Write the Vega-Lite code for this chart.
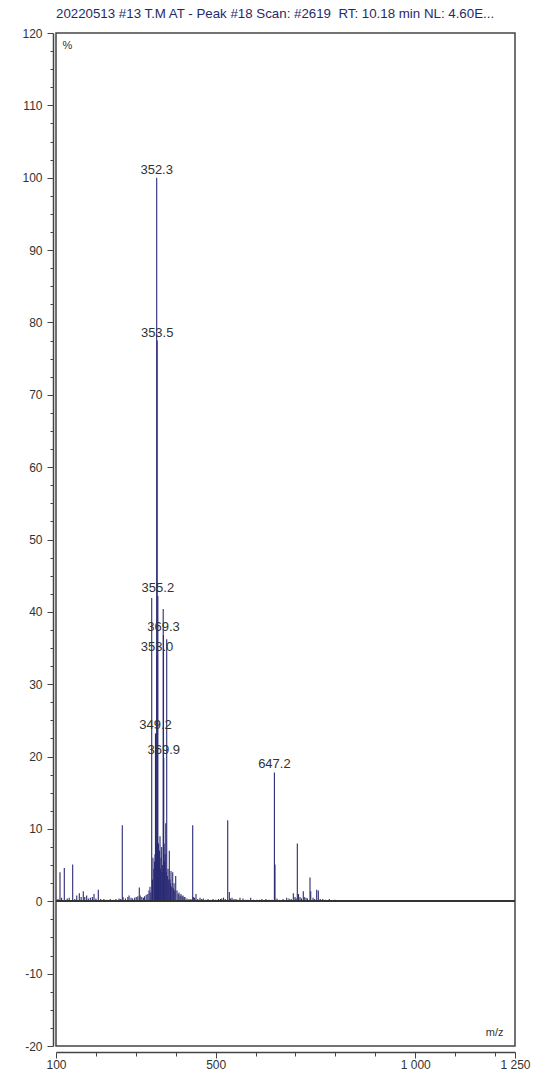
{
  "$schema": "https://vega.github.io/schema/vega-lite/v6.json",
  "width": 459,
  "height": 1013,
  "autosize": {"type": "none"},
  "padding": {"left": 56, "top": 33, "right": 18, "bottom": 25},
  "background": "white",
  "config": {
    "view": {"stroke": "#444444", "strokeWidth": 1.5},
    "font": "Liberation Sans"
  },
  "title": {
    "text": "20220513 #13 T.M AT - Peak #18 Scan: #2619 \u00a0RT: 10.18 min NL: 4.60E...",
    "anchor": "start",
    "frame": "group",
    "fontSize": 13.3,
    "fontWeight": "normal",
    "color": "#1d2b6b",
    "offset": 7,
    "font": "Liberation Sans"
  },
  "resolve": {"axis": {"x": "independent", "y": "independent"}},
  "data": {
    "values": [
      {"mz": 105.0, "intensity": 0.3},
      {"mz": 110.0, "intensity": 4.0},
      {"mz": 114.0, "intensity": 0.5},
      {"mz": 120.8, "intensity": 4.6},
      {"mz": 128.0, "intensity": 0.4},
      {"mz": 133.0, "intensity": 0.5},
      {"mz": 141.8, "intensity": 5.1},
      {"mz": 147.0, "intensity": 0.3},
      {"mz": 152.0, "intensity": 0.8},
      {"mz": 158.4, "intensity": 1.1},
      {"mz": 163.0, "intensity": 0.6},
      {"mz": 168.4, "intensity": 1.4},
      {"mz": 172.0, "intensity": 0.6},
      {"mz": 176.9, "intensity": 0.8},
      {"mz": 181.0, "intensity": 0.4},
      {"mz": 186.0, "intensity": 0.5},
      {"mz": 191.0, "intensity": 0.6},
      {"mz": 195.2, "intensity": 1.0},
      {"mz": 200.0, "intensity": 0.4},
      {"mz": 206.0, "intensity": 1.6},
      {"mz": 212.0, "intensity": 0.3},
      {"mz": 220.0, "intensity": 0.3},
      {"mz": 228.0, "intensity": 0.2},
      {"mz": 236.0, "intensity": 0.3},
      {"mz": 244.0, "intensity": 0.2},
      {"mz": 250.0, "intensity": 0.3},
      {"mz": 258.0, "intensity": 0.4},
      {"mz": 262.0, "intensity": 0.3},
      {"mz": 266.1, "intensity": 10.5},
      {"mz": 268.0, "intensity": 0.6},
      {"mz": 274.0, "intensity": 0.4},
      {"mz": 280.0, "intensity": 0.6},
      {"mz": 283.0, "intensity": 0.8},
      {"mz": 288.0, "intensity": 0.5},
      {"mz": 292.0, "intensity": 0.4},
      {"mz": 297.0, "intensity": 0.5},
      {"mz": 301.0, "intensity": 0.6},
      {"mz": 305.0, "intensity": 0.7},
      {"mz": 308.7, "intensity": 1.9},
      {"mz": 311.0, "intensity": 0.8},
      {"mz": 315.0, "intensity": 0.6},
      {"mz": 319.0, "intensity": 0.5},
      {"mz": 322.0, "intensity": 0.7},
      {"mz": 326.0, "intensity": 0.9},
      {"mz": 330.0, "intensity": 1.0},
      {"mz": 333.0, "intensity": 1.5},
      {"mz": 335.5, "intensity": 2.0},
      {"mz": 337.5, "intensity": 1.2},
      {"mz": 339.8, "intensity": 41.9},
      {"mz": 341.8, "intensity": 3.0},
      {"mz": 343.0, "intensity": 6.0},
      {"mz": 345.0, "intensity": 4.5},
      {"mz": 347.0, "intensity": 5.5},
      {"mz": 348.0, "intensity": 6.5},
      {"mz": 349.2, "intensity": 23.2, "label": "349.2"},
      {"mz": 350.5, "intensity": 7.0},
      {"mz": 351.5, "intensity": 8.0},
      {"mz": 352.3, "intensity": 100, "label": "352.3"},
      {"mz": 353.0, "intensity": 34.0, "label": "353.0"},
      {"mz": 353.5, "intensity": 77.5, "label": "353.5"},
      {"mz": 354.4, "intensity": 9.0},
      {"mz": 355.2, "intensity": 42.2, "label": "355.2"},
      {"mz": 355.9, "intensity": 5.0},
      {"mz": 356.8, "intensity": 8.0},
      {"mz": 358.0, "intensity": 6.0},
      {"mz": 359.4, "intensity": 7.0},
      {"mz": 360.6, "intensity": 9.0},
      {"mz": 362.0, "intensity": 4.5},
      {"mz": 363.0, "intensity": 6.0},
      {"mz": 364.8, "intensity": 7.5},
      {"mz": 366.0, "intensity": 4.0},
      {"mz": 367.3, "intensity": 5.0},
      {"mz": 368.6, "intensity": 40.4},
      {"mz": 369.3, "intensity": 36.8, "label": "369.3"},
      {"mz": 369.9, "intensity": 19.8, "label": "369.9"},
      {"mz": 370.9, "intensity": 8.0},
      {"mz": 372.0, "intensity": 5.5},
      {"mz": 373.5, "intensity": 6.5},
      {"mz": 375.0, "intensity": 10.8},
      {"mz": 376.3, "intensity": 4.0},
      {"mz": 377.4, "intensity": 36.2},
      {"mz": 379.0, "intensity": 3.5},
      {"mz": 380.7, "intensity": 4.5},
      {"mz": 382.3, "intensity": 3.0},
      {"mz": 383.9, "intensity": 7.0},
      {"mz": 385.6, "intensity": 3.0},
      {"mz": 387.0, "intensity": 2.5},
      {"mz": 388.1, "intensity": 4.2},
      {"mz": 390.0, "intensity": 2.0},
      {"mz": 392.4, "intensity": 4.0},
      {"mz": 394.0, "intensity": 1.8},
      {"mz": 395.7, "intensity": 2.5},
      {"mz": 397.5, "intensity": 1.5},
      {"mz": 399.9, "intensity": 3.5},
      {"mz": 403.2, "intensity": 1.5},
      {"mz": 406.0, "intensity": 1.0},
      {"mz": 408.2, "intensity": 1.2},
      {"mz": 411.0, "intensity": 0.8},
      {"mz": 413.2, "intensity": 1.0},
      {"mz": 416.0, "intensity": 0.7},
      {"mz": 418.2, "intensity": 0.8},
      {"mz": 421.0, "intensity": 0.6},
      {"mz": 423.2, "intensity": 0.6},
      {"mz": 428.2, "intensity": 0.4},
      {"mz": 433.2, "intensity": 0.3},
      {"mz": 438.0, "intensity": 0.3},
      {"mz": 442.5, "intensity": 10.5},
      {"mz": 444.0, "intensity": 0.6},
      {"mz": 447.0, "intensity": 0.5},
      {"mz": 450.8, "intensity": 1.0},
      {"mz": 455.0, "intensity": 0.3},
      {"mz": 460.8, "intensity": 0.5},
      {"mz": 465.0, "intensity": 0.3},
      {"mz": 469.0, "intensity": 0.4},
      {"mz": 475.0, "intensity": 0.2},
      {"mz": 480.9, "intensity": 0.3},
      {"mz": 487.0, "intensity": 0.2},
      {"mz": 493.4, "intensity": 0.3},
      {"mz": 500.0, "intensity": 0.2},
      {"mz": 507.0, "intensity": 0.3},
      {"mz": 512.0, "intensity": 0.3},
      {"mz": 515.2, "intensity": 0.4},
      {"mz": 519.7, "intensity": 0.5},
      {"mz": 524.0, "intensity": 0.3},
      {"mz": 530.2, "intensity": 11.2},
      {"mz": 534.2, "intensity": 1.3},
      {"mz": 537.0, "intensity": 0.4},
      {"mz": 541.0, "intensity": 0.5},
      {"mz": 546.0, "intensity": 0.3},
      {"mz": 551.0, "intensity": 0.3},
      {"mz": 556.0, "intensity": 0.2},
      {"mz": 561.0, "intensity": 0.5},
      {"mz": 568.6, "intensity": 0.4},
      {"mz": 575.0, "intensity": 0.2},
      {"mz": 581.0, "intensity": 0.2},
      {"mz": 587.8, "intensity": 0.5},
      {"mz": 595.0, "intensity": 0.2},
      {"mz": 603.0, "intensity": 0.2},
      {"mz": 610.0, "intensity": 0.2},
      {"mz": 616.0, "intensity": 0.3},
      {"mz": 626.0, "intensity": 0.3},
      {"mz": 634.0, "intensity": 0.2},
      {"mz": 641.0, "intensity": 0.2},
      {"mz": 647.2, "intensity": 17.8, "label": "647.2"},
      {"mz": 648.7, "intensity": 5.1},
      {"mz": 653.7, "intensity": 0.4},
      {"mz": 660.0, "intensity": 0.2},
      {"mz": 668.8, "intensity": 0.3},
      {"mz": 678.0, "intensity": 0.5},
      {"mz": 683.8, "intensity": 0.4},
      {"mz": 689.0, "intensity": 0.3},
      {"mz": 694.6, "intensity": 1.1},
      {"mz": 698.8, "intensity": 0.6},
      {"mz": 701.5, "intensity": 0.4},
      {"mz": 704.6, "intensity": 8.0},
      {"mz": 707.6, "intensity": 1.0},
      {"mz": 711.4, "intensity": 0.6},
      {"mz": 715.0, "intensity": 0.4},
      {"mz": 719.6, "intensity": 1.4},
      {"mz": 722.0, "intensity": 0.6},
      {"mz": 726.4, "intensity": 0.5},
      {"mz": 730.0, "intensity": 0.4},
      {"mz": 736.4, "intensity": 3.3},
      {"mz": 738.2, "intensity": 1.4},
      {"mz": 744.0, "intensity": 0.5},
      {"mz": 748.0, "intensity": 0.3},
      {"mz": 753.2, "intensity": 1.6},
      {"mz": 757.2, "intensity": 1.5},
      {"mz": 762.0, "intensity": 0.3},
      {"mz": 768.3, "intensity": 0.3},
      {"mz": 775.0, "intensity": 0.2},
      {"mz": 784.8, "intensity": 0.3},
      {"mz": 799.0, "intensity": 0.2}
    ]
  },
  "layer": [
    {
      "mark": {"type": "rule", "color": "#2b2b75", "strokeWidth": 1.1},
      "encoding": {
        "x": {
          "field": "mz",
          "type": "quantitative",
          "scale": {"domain": [100, 1250], "nice": false, "zero": false},
          "axis": {
            "orient": "bottom",
            "title": "m/z",
            "titleX": 447,
            "titleY": -20,
            "titleAlign": "right",
            "titleBaseline": "middle",
            "titleFontSize": 11,
            "titleFontWeight": "normal",
            "titleColor": "#333333",
            "titleFont": "Liberation Sans",
            "values": [100, 500, 1000, 1250],
            "labelExpr": "datum.value === 1000 ? '1 000' : datum.value === 1250 ? '1 250' : '' + datum.value",
            "labelOverlap": false,
            "labelFlush": false,
            "labelBound": false,
            "labelFontSize": 12,
            "labelColor": "#333333",
            "labelFont": "Liberation Sans",
            "labelPadding": 1,
            "offset": 6,
            "domainColor": "#444444",
            "domainWidth": 1.5,
            "tickColor": "#444444",
            "tickWidth": 1,
            "tickSize": 6,
            "grid": false
          }
        },
        "y": {
          "field": "intensity",
          "type": "quantitative",
          "scale": {"domain": [-20, 120], "nice": false, "zero": false},
          "axis": {
            "orient": "left",
            "title": "%",
            "titleAngle": 0,
            "titleX": 9,
            "titleY": 12,
            "titleAlign": "left",
            "titleBaseline": "middle",
            "titleFontSize": 11,
            "titleFontWeight": "normal",
            "titleColor": "#333333",
            "titleFont": "Liberation Sans",
            "values": [-20, -10, 0, 10, 20, 30, 40, 50, 60, 70, 80, 90, 100, 110, 120],
            "labelExpr": "'' + datum.value",
            "labelOverlap": false,
            "labelBound": false,
            "labelFlush": false,
            "labelFontSize": 12,
            "labelColor": "#333333",
            "labelFont": "Liberation Sans",
            "labelPadding": 5,
            "offset": 3,
            "domainColor": "#444444",
            "domainWidth": 1.5,
            "tickColor": "#444444",
            "tickWidth": 1,
            "tickSize": 6,
            "grid": false
          }
        },
        "y2": {"datum": 0}
      }
    },
    {
      "mark": {"type": "rule", "color": "#333333", "strokeWidth": 1.5},
      "encoding": {"y": {"datum": 0, "axis": null}}
    },
    {
      "transform": [{"filter": "isValid(datum.label)"}],
      "mark": {"type": "text", "baseline": "middle", "align": "center", "dy": -8, "fontSize": 13, "color": "#333333", "font": "Liberation Sans"},
      "encoding": {
        "x": {
          "field": "mz",
          "type": "quantitative",
          "axis": {
            "orient": "bottom",
            "title": null,
            "values": [200, 300, 400, 600, 700, 800, 900, 1100, 1200],
            "labels": false,
            "domain": false,
            "offset": 6,
            "tickColor": "#444444",
            "tickWidth": 1,
            "tickSize": 4,
            "grid": false
          }
        },
        "y": {
          "field": "intensity",
          "type": "quantitative",
          "axis": {
            "orient": "left",
            "title": null,
            "values": [-17.5, -15, -12.5, -7.5, -5, -2.5, 2.5, 5, 7.5, 12.5, 15, 17.5, 22.5, 25, 27.5, 32.5, 35, 37.5, 42.5, 45, 47.5, 52.5, 55, 57.5, 62.5, 65, 67.5, 72.5, 75, 77.5, 82.5, 85, 87.5, 92.5, 95, 97.5, 102.5, 105, 107.5, 112.5, 115, 117.5],
            "labels": false,
            "domain": false,
            "offset": 3,
            "tickColor": "#444444",
            "tickWidth": 1,
            "tickSize": 3,
            "grid": false
          }
        },
        "text": {"field": "label"}
      }
    }
  ]
}
